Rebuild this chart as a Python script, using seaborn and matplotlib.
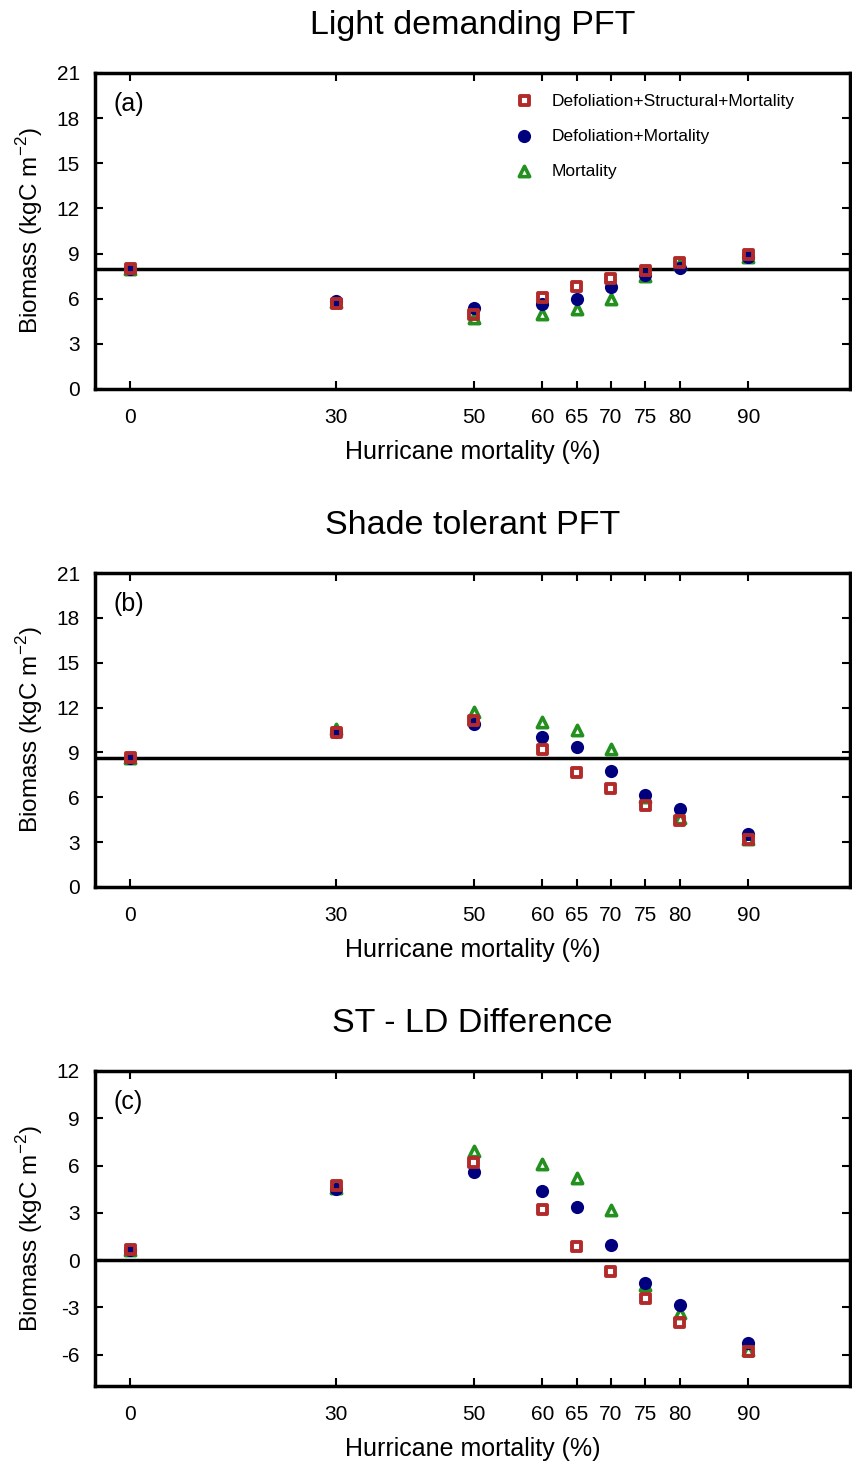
import matplotlib
matplotlib.use("Agg")
import matplotlib.pyplot as plt
import seaborn as sns
import pandas as pd

mortality = [0, 30, 50, 60, 65, 70, 75, 80, 90]

# (a) light demanding PFT
ld_dsm = [8.0, 5.67, 4.98, 6.05, 6.84, 7.35, 7.9, 8.42, 8.95]
ld_dm = [8.0, 5.87, 5.36, 5.65, 5.96, 6.8, 7.57, 8.02, 8.8]
ld_m = [8.0, 5.75, 4.7, 4.98, 5.3, 6.0, 7.5, 8.3, 8.75]

# (b) shade tolerant PFT
st_dsm = [8.64, 10.36, 11.16, 9.2, 7.69, 6.6, 5.46, 4.43, 3.19]
st_dm = [8.64, 10.38, 10.9, 10.05, 9.34, 7.75, 6.17, 5.23, 3.54]
st_m = [8.64, 10.6, 11.72, 11.05, 10.47, 9.2, 6.0, 4.6, 3.19]

# (c) ST - LD difference
df_dsm = [0.64, 4.71, 6.19, 3.18, 0.83, -0.74, -2.44, -3.94, -5.79]
df_dm = [0.64, 4.49, 5.58, 4.37, 3.39, 0.93, -1.44, -2.84, -5.26]
df_m = [0.64, 4.6, 6.89, 6.1, 5.19, 3.18, -1.59, -3.39, -5.72]

series = ["Defoliation+Structural+Mortality", "Defoliation+Mortality", "Mortality"]
titles = ["Light demanding PFT", "Shade tolerant PFT", "ST - LD Difference"]
tags = ["(a)", "(b)", "(c)"]
panels = [[ld_dsm, ld_dm, ld_m], [st_dsm, st_dm, st_m], [df_dsm, df_dm, df_m]]
baselines = [ld_dsm[0], st_dsm[0], 0]
ylims = [(0, 21), (0, 21), (-8, 12)]
yticks = [range(0, 22, 3), range(0, 22, 3), range(-6, 13, 3)]

sns.set_style("ticks", {"axes.edgecolor": "black", "text.color": "black",
                        "axes.labelcolor": "black", "xtick.color": "black",
                        "ytick.color": "black"})
plt.rcParams["font.family"] = ["Liberation Sans", "DejaVu Sans"]
plt.rcParams["axes.unicode_minus"] = False
plt.rcParams["mathtext.fontset"] = "custom"
plt.rcParams["mathtext.rm"] = "Liberation Sans"

red = "#b22a2a"
navy = "#00007f"
green = "#23901f"

fig = plt.figure(figsize=(8.52, 14.62), dpi=100)
W, H = 852, 1462
boxes = [(73, 389), (573, 887), (1071, 1386)]

for i, (top, bot) in enumerate(boxes):
    ax = fig.add_axes([95 / W, 1 - bot / H, (850 - 95) / W, (bot - top) / H])
    d_dsm, d_dm, d_m = panels[i]
    data = pd.DataFrame({"x": mortality, "dsm": d_dsm, "dm": d_dm, "m": d_m})

    ax.axhline(baselines[i], color="black", lw=2.5, zorder=1)

    sns.scatterplot(data=data, x="x", y="m", marker="^", s=55, facecolor="white",
                    edgecolor=green, linewidth=2.6, label=series[2], ax=ax, zorder=3)
    sns.scatterplot(data=data, x="x", y="dm", marker="o", s=90, color=navy,
                    edgecolor=navy, linewidth=0, label=series[1], ax=ax, zorder=4)
    sns.scatterplot(data=data, x="x", y="dsm", marker="s", s=42, facecolor="none",
                    edgecolor=red, linewidth=2.8, label=series[0], ax=ax, zorder=5)

    ax.set_xlim(-5.1, 104.8)
    ax.set_ylim(*ylims[i])
    ax.set_xticks(mortality)
    ax.set_xticklabels([str(m) for m in mortality])
    ax.set_yticks(list(yticks[i]))
    ax.tick_params(direction="in", length=6, width=1.5, top=True, right=True,
                   left=True, bottom=True, labelsize=15)
    ax.tick_params(axis="x", pad=14)
    ax.tick_params(axis="y", pad=11)
    for sp in ax.spines.values():
        sp.set_linewidth(2.5)
        sp.set_color("black")

    ax.set_xlabel("Hurricane mortality (%)", fontsize=18, labelpad=9)
    ax.set_ylabel("Biomass (kgC m$^{-2}$)", fontsize=17.5, labelpad=8)
    ax.set_title(titles[i], fontsize=24.5, pad=28)
    ax.text(0.024, 0.88, tags[i], transform=ax.transAxes, fontsize=18)

    if i == 0:
        h, l = ax.get_legend_handles_labels()
        order = [l.index(s) for s in series]
        ax.legend([h[k] for k in order], series, loc="upper left",
                  bbox_to_anchor=(0.525, 0.985), frameon=False, fontsize=12.5,
                  handletextpad=0.55, labelspacing=1.15, markerscale=1.0)
    else:
        ax.get_legend().remove()

fig.savefig("out.png", dpi=100)
